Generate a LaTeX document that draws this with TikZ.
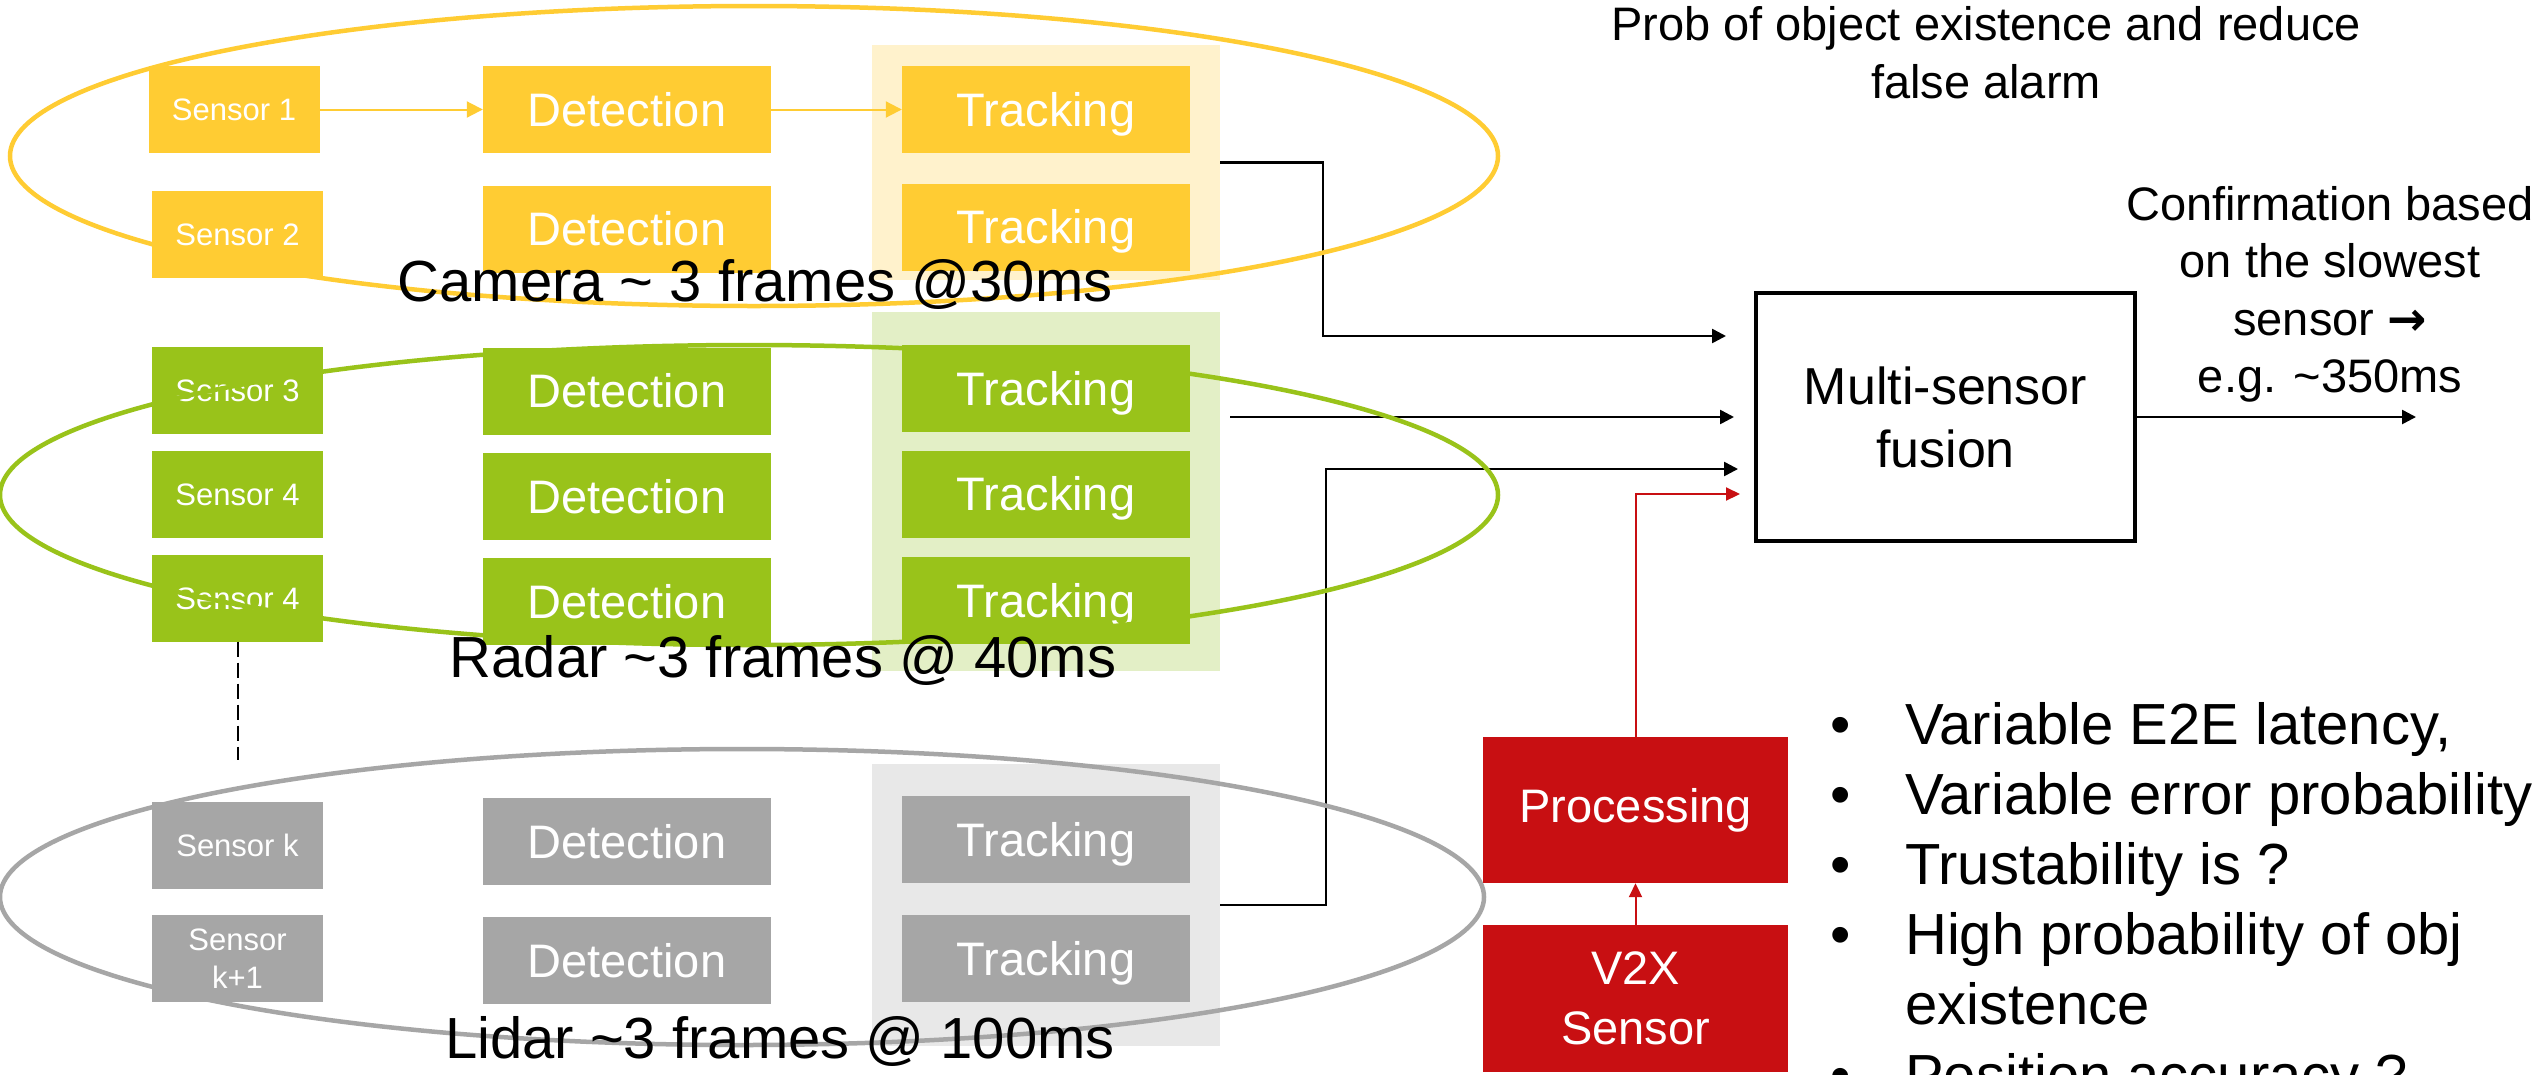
\documentclass[tikz,border=0pt]{standalone}
\usepackage{fontspec}
\setmainfont{Liberation Sans}
\newfontfamily\arrowfont{DejaVu Sans}
\usetikzlibrary{arrows.meta}

\definecolor{camfill}{HTML}{FFCC33}
\definecolor{camback}{HTML}{FFF2CC}
\definecolor{radfill}{HTML}{99C31A}
\definecolor{radback}{HTML}{E3EFC6}
\definecolor{lidfill}{HTML}{A6A6A6}
\definecolor{lidback}{HTML}{E8E8E8}
\definecolor{vxred}{HTML}{C80F12}

\tikzset{
  blk/.style={draw=none, inner sep=0pt, text=white, align=center},
  sensbox/.style={blk, minimum width=171pt, minimum height=87pt,
    font=\fontsize{31}{38}\selectfont, text height=22.3pt, text depth=0pt},
  stagebox/.style={blk, minimum width=288pt, minimum height=87pt,
    font=\fontsize{47}{56}\selectfont, text height=33.8pt, text depth=0pt},
  backbox/.style={draw=none, inner sep=0pt, minimum width=348pt},
  redbox/.style={blk, fill=vxred, minimum width=305pt, minimum height=147pt,
    font=\fontsize{47}{60}\selectfont},
  ringline/.style={line width=4.5pt},
  grouplabel/.style={anchor=base, inner sep=0pt, font=\fontsize{58}{70}\selectfont},
  notetext/.style={anchor=base, inner sep=0pt, font=\fontsize{47}{58}\selectfont},
  bullettext/.style={anchor=base west, inner sep=0pt, font=\fontsize{58}{70}\selectfont},
  bulletmark/.style={anchor=base, inner sep=0pt, font=\fontsize{58}{70}\selectfont},
  conn/.style={line width=2.5pt, -{Triangle[length=14pt,width=14pt]}},
  redconn/.style={draw=vxred, line width=2pt, -{Triangle[length=14pt,width=13pt]}},
  camconn/.style={draw=camfill, line width=2pt, -{Triangle[length=16pt,width=16pt]}},
}

\begin{document}
\begin{tikzpicture}[x=1pt, y=-1pt]
\fill[white] (0,0) rectangle (2547,1074);
\useasboundingbox (0,0) rectangle (2547,1074);

% light panels behind the tracking columns
\node[backbox, fill=camback, minimum height=235pt] (ybg) at (1046,162.5) {};
\node[backbox, fill=radback, minimum height=359pt] (gbg) at (1046,491.5) {};
\node[backbox, fill=lidback, minimum height=282pt] (lbg) at (1046,905) {};

% camera chain
\node[sensbox, fill=camfill] (s1) at (234,109.5) {Sensor 1};
\node[stagebox, fill=camfill] (d1) at (627,109.5) {Detection};
\node[stagebox, fill=camfill] (t1) at (1046,109.5) {Tracking};
\node[sensbox, fill=camfill] (s2) at (237.5,234.5) {Sensor 2};
\node[stagebox, fill=camfill] (d2) at (627,229) {Detection};
\node[stagebox, fill=camfill] (t2) at (1046,227) {Tracking};

% radar chain
\node[sensbox, fill=radfill] (s3) at (237.5,390) {Sensor 3};
\node[stagebox, fill=radfill] (d3) at (627,391) {Detection};
\node[stagebox, fill=radfill] (t3) at (1046,388.5) {Tracking};
\node[sensbox, fill=radfill] (s4) at (237.5,494) {Sensor 4};
\node[stagebox, fill=radfill] (d4) at (627,496.5) {Detection};
\node[stagebox, fill=radfill] (t4) at (1046,494) {Tracking};
\node[sensbox, fill=radfill] (s5) at (237.5,598) {Sensor 4};
\node[stagebox, fill=radfill] (d5) at (627,601.5) {Detection};
\node[stagebox, fill=radfill] (t5) at (1046,600.5) {Tracking};

% lidar chain
\node[sensbox, fill=lidfill] (sk) at (237.5,845.5) {Sensor k};
\node[stagebox, fill=lidfill] (dk) at (627,841.5) {Detection};
\node[stagebox, fill=lidfill] (tk) at (1046,839.5) {Tracking};
\node[blk, fill=lidfill, minimum width=171pt, minimum height=87pt,
      font=\fontsize{31}{38}\selectfont] (sk1) at (237.5,958.5) {Sensor\\k+1};
\node[stagebox, fill=lidfill] (dk1) at (627,960.5) {Detection};
\node[stagebox, fill=lidfill] (tk1) at (1046,958.5) {Tracking};

% V2X path and fusion block
\node[redbox, minimum height=146pt] (proc) at (1635.5,810) {Processing};
\node[redbox] (v2x) at (1635.5,998.5) {V2X\\Sensor};
\node[draw, line width=4.5pt, minimum width=379pt, minimum height=248pt,
      inner sep=0pt, align=center, font=\fontsize{52}{63}\selectfont]
      (fusion) at (1945.5,417) {Multi-sensor\\fusion};

% connector end points
\coordinate (in1) at (1726,336);
\coordinate (m0) at (1230,417);
\coordinate (in2) at (1734,417);
\coordinate (in3) at (1738,469);
\coordinate (in4) at (1740,494);
\coordinate (out) at (2416,417);
\coordinate (more) at (237.5,760);

% camera arrows
\draw[camconn] (s1.east) -- (d1.west);
\draw[camconn] (d1.east) -- (t1.west);

% dashed continuation of the sensor column
\draw[line width=2pt, dash pattern=on 15pt off 6pt] (s5.south) -- (more);

% links into the fusion block
\draw[conn] (ybg.east) -- ++(103,0) |- (in1);
\draw[conn] (m0) -- (in2);
\draw[conn] (lbg.east) -- ++(106,0) |- (in3);
\draw[redconn] (proc.north) |- (in4);
\draw[redconn] (v2x.north) -- (proc.south);
\draw[conn] (fusion.east) -- (out);

% sensor group rings
\draw[camfill, ringline] (754,156) ellipse [x radius=744pt, y radius=150pt];
\draw[radfill, ringline] (749,495) ellipse [x radius=749pt, y radius=150pt];
\draw[lidfill, ringline] (742,897) ellipse [x radius=742pt, y radius=148pt];

% group captions
\node[grouplabel] (lcam) at (755,301) {Camera \textasciitilde{} 3 frames @30ms};
\node[grouplabel] (lrad) at (783,677) {Radar \textasciitilde3 frames @ 40ms};
\node[grouplabel] (llid) at (780,1058) {Lidar \textasciitilde3 frames @ 100ms};

% notes
\node[notetext] (p1) at (1986,40) {Prob of object existence and reduce};
\node[notetext] (p2) at (1986,98) {false alarm};
\node[notetext] (c1) at (2330,220) {Confirmation based};
\node[notetext] (c2) at (2330,277) {on the slowest};
\node[notetext] (c3) at (2330,335) {sensor {\arrowfont\bfseries →}};
\node[notetext] (c4) at (2330,392) {e.g. \textasciitilde350ms};

% bullet list
\node[bulletmark] (b1) at (1841,744) {\textbullet};
\node[bullettext] (e1) at (1905,744) {Variable E2E latency,};
\node[bulletmark] (b2) at (1841,814) {\textbullet};
\node[bullettext] (e2) at (1905,814) {Variable error probability};
\node[bulletmark] (b3) at (1841,884) {\textbullet};
\node[bullettext] (e3) at (1905,884) {Trustability is ?};
\node[bulletmark] (b4) at (1841,954) {\textbullet};
\node[bullettext] (e4) at (1905,954) {High probability of obj};
\node[bullettext] (e5) at (1905,1024) {existence};
\node[bulletmark] (b6) at (1841,1095) {\textbullet};
\node[bullettext] (e6) at (1905,1095) {Position accuracy ?};
\end{tikzpicture}
\end{document}
